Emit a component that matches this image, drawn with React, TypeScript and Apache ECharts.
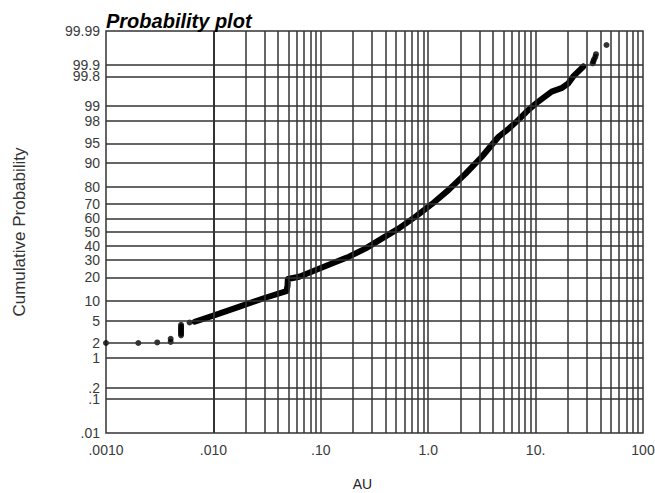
import React, { useEffect, useRef } from "react";
import * as echarts from "echarts";

// Sparse observations below the continuous part of the sample (AU, cumulative %)
const lowTailAU = [0.001, 0.002, 0.003, 0.004, 0.004, 0.005, 0.005, 0.005, 0.005, 0.005, 0.005, 0.005, 0.005, 0.006];
const lowTailPct = [2.0, 2.0, 2.05, 2.1, 2.4, 2.8, 3.0, 3.2, 3.4, 3.6, 3.8, 4.0, 4.3, 4.7];

// Dense body of the sorted sample
const curveAU = [
  0.0067, 0.0103, 0.0175, 0.0299, 0.0478, 0.049, 0.0493, 0.063, 0.09, 0.1285,
  0.183, 0.262, 0.373, 0.533, 0.762, 1.087, 1.55, 2.22, 3.16, 4.52,
  5.6, 6.92, 8.57, 10.6, 14.1, 17.4, 20.1, 22.4, 24.9, 27.8,
];
const curvePct = [
  4.84, 6.22, 8.38, 11.1, 13.7, 16.0, 19.2, 20.4, 24.1, 28.1,
  32.4, 38.1, 45.3, 52.7, 61.2, 69.8, 78.2, 85.9, 91.8, 96.1,
  97.2, 98.1, 98.81, 99.21, 99.53, 99.61, 99.7, 99.8, 99.85, 99.89,
];

// Sparse observations at the top of the sample
const highTailAU = [34, 34.5, 35, 36, 36.5, 45.7];
const highTailPct = [99.91, 99.92, 99.93, 99.94, 99.95, 99.973];

// Probability grid (percent) and the labels printed beside each line
const probLevels = [0.01, 0.1, 0.2, 1, 2, 5, 10, 20, 30, 40, 50, 60, 70, 80, 90, 95, 98, 99, 99.8, 99.9, 99.99];
const probLabels = [".01", ".1", ".2", "1", "2", "5", "10", "20", "30", "40", "50", "60", "70", "80", "90", "95", "98", "99", "99.8", "99.9", "99.99"];

// Log-cycle grid: decades and the multipliers within each decade
const decades = [0.001, 0.01, 0.1, 1, 10];
const cycleSteps = [1, 2, 3, 4, 5, 6, 7, 8, 9];
const xTickLabels = [".0010", ".010", ".10", "1.0", "10.", "100"];

// Inverse of the standard normal CDF (Acklam's rational approximation)
function probit(p: number): number {
  const a = [-39.69683028665376, 220.9460984245205, -275.9285104469687, 138.357751867269, -30.66479806614716, 2.506628277459239];
  const b = [-54.47609879822406, 161.5858368580409, -155.6989798598866, 66.80131188771972, -13.28068155288572];
  const c = [-0.007784894002430293, -0.3223964580411365, -2.400758277161838, -2.549732539343734, 4.374664141464968, 2.938163982698783];
  const d = [0.007784695709041462, 0.3224671290700398, 2.445134137142996, 3.754408661907416];
  const pLow = 0.02425;
  const pHigh = 1 - pLow;
  if (p < pLow) {
    const q = Math.sqrt(-2 * Math.log(p));
    return (((((c[0] * q + c[1]) * q + c[2]) * q + c[3]) * q + c[4]) * q + c[5]) /
      ((((d[0] * q + d[1]) * q + d[2]) * q + d[3]) * q + 1);
  }
  if (p <= pHigh) {
    const q = p - 0.5;
    const r = q * q;
    return (((((a[0] * r + a[1]) * r + a[2]) * r + a[3]) * r + a[4]) * r + a[5]) * q /
      (((((b[0] * r + b[1]) * r + b[2]) * r + b[3]) * r + b[4]) * r + 1);
  }
  const q = Math.sqrt(-2 * Math.log(1 - p));
  return -(((((c[0] * q + c[1]) * q + c[2]) * q + c[3]) * q + c[4]) * q + c[5]) /
    ((((d[0] * q + d[1]) * q + d[2]) * q + d[3]) * q + 1);
}

const FONT = "'Liberation Sans', Arial, Helvetica, sans-serif";
const LABEL_COLOR = "#3a3a3a";
const GRID_COLOR = "#333333";

export default function App() {
  const ref = useRef<HTMLDivElement>(null);

  useEffect(() => {
    if (!ref.current) return;
    const chart = echarts.init(ref.current, null, { renderer: "svg" });

    const zLevels = probLevels.map((p) => probit(p / 100));
    const zMin = zLevels[0];
    const zMax = zLevels[zLevels.length - 1];
    const xMin = decades[0];
    const xMax = 100;

    // interior log-cycle lines (the frame itself is the grid border)
    const verticalLines: number[] = [];
    decades.forEach((dec) => cycleSteps.forEach((k) => verticalLines.push(dec * k)));
    const innerVertical = verticalLines.filter((v) => v > xMin && v < xMax);
    const innerHorizontal = zLevels.filter((z) => z > zMin && z < zMax);

    const gridMarks: any[] = [
      ...innerVertical.map((v) => ({ xAxis: v })),
      ...innerHorizontal.map((z) => ({ yAxis: z })),
    ];

    const probLabelFor = (z: number) => {
      let best = 0;
      zLevels.forEach((lv, i) => {
        if (Math.abs(lv - z) < Math.abs(zLevels[best] - z)) best = i;
      });
      return probLabels[best];
    };

    const toPoint = (xs: number[], ps: number[]) => xs.map((x, i) => [x, probit(ps[i] / 100)]);

    chart.setOption({
      animation: false,
      backgroundColor: "#ffffff",
      title: {
        text: "Probability plot",
        left: 106,
        top: 11,
        padding: 0,
        textStyle: {
          fontSize: 20,
          fontWeight: "bold",
          fontStyle: "italic",
          color: "#000",
          fontFamily: FONT,
        },
      },
      grid: {
        left: 106,
        right: 12,
        top: 31,
        bottom: 60,
        outerBoundsMode: "none",
        containLabel: false,
        show: true,
        borderColor: GRID_COLOR,
        borderWidth: 1.5,
        backgroundColor: "transparent",
      },
      xAxis: {
        type: "log",
        logBase: 10,
        min: xMin,
        max: xMax,
        name: "AU",
        nameLocation: "middle",
        nameGap: 44,
        nameTextStyle: { color: "#222", fontSize: 14, fontFamily: FONT, padding: [0, 24, 0, 0] },
        axisLine: { show: false },
        axisTick: { show: false },
        splitLine: { show: false },
        axisLabel: {
          color: LABEL_COLOR,
          fontSize: 14,
          fontFamily: FONT,
          margin: 10,
          formatter: (v: number) => xTickLabels[Math.round(Math.log10(v)) + 3] ?? "",
        },
      },
      yAxis: {
        type: "value",
        min: zMin,
        max: zMax,
        name: "Cumulative Probability",
        nameLocation: "middle",
        nameGap: 78,
        nameTextStyle: { color: "#333", fontSize: 17, fontFamily: FONT },
        axisLine: { show: false },
        axisTick: { show: false },
        splitLine: { show: false },
        axisLabel: {
          show: true,
          customValues: zLevels,
          showMinLabel: true,
          showMaxLabel: true,
          margin: 6,
          color: LABEL_COLOR,
          fontSize: 14,
          fontFamily: FONT,
          formatter: (v: number) => probLabelFor(v),
        },
      },
      series: [
        {
          name: "grid",
          type: "line",
          data: [],
          silent: true,
          z: 1,
          markLine: {
            silent: true,
            symbol: "none",
            animation: false,
            label: { show: false },
            lineStyle: { color: GRID_COLOR, width: 1.5, type: "solid" },
            emphasis: { disabled: true },
            data: gridMarks,
          },
        },
        {
          name: "sample",
          type: "line",
          data: toPoint(curveAU, curvePct),
          showSymbol: false,
          symbol: "none",
          silent: true,
          z: 3,
          lineStyle: { color: "#000", width: 6, cap: "round", join: "round" },
        },
        {
          name: "tails",
          type: "scatter",
          data: [...toPoint(lowTailAU, lowTailPct), ...toPoint(highTailAU, highTailPct)],
          symbol: "circle",
          symbolSize: 6,
          silent: true,
          z: 3,
          itemStyle: { color: "#000" },
        },
      ],
    });

    return () => chart.dispose();
  }, []);

  return (
    <div
      ref={ref}
      style={{ position: "fixed", left: 0, top: 0, width: 655, height: 493, background: "#fff" }}
    />
  );
}
